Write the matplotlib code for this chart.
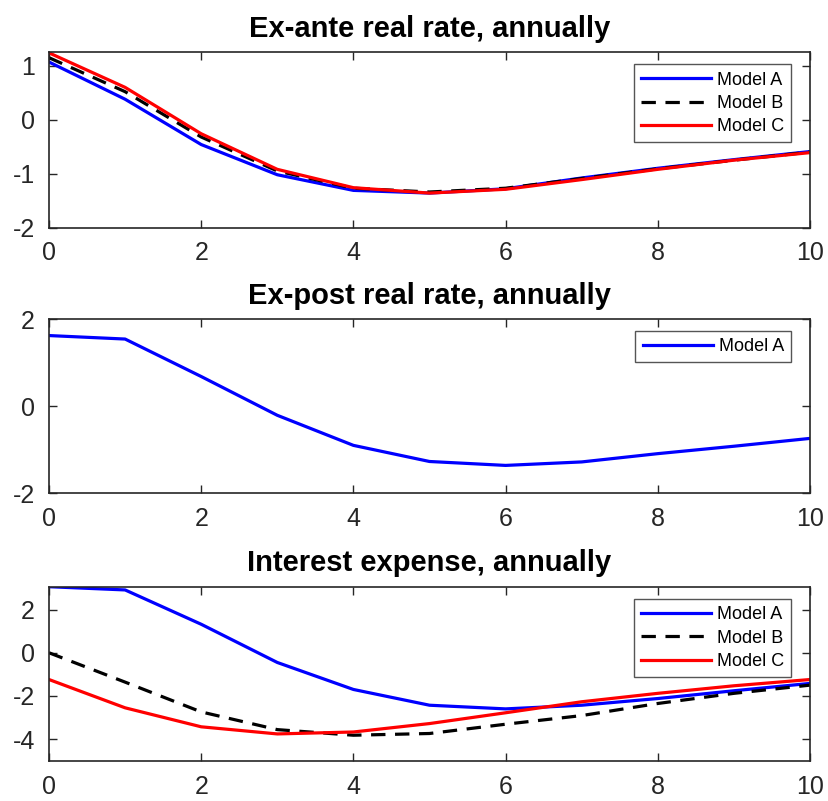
import matplotlib
matplotlib.use("Agg")
import matplotlib.pyplot as plt
import numpy as np

plt.rcParams['font.family'] = ['Liberation Sans', 'DejaVu Sans']
plt.rcParams['axes.unicode_minus'] = False

periods = list(range(11))

# Panel 1: Ex-ante real rate
exante_A = [1.07, 0.38, -0.46, -1.02, -1.31, -1.36, -1.28, -1.08, -0.90, -0.74, -0.59]
exante_B = [1.15, 0.52, -0.32, -0.95, -1.27, -1.34, -1.27, -1.09, -0.91, -0.75, -0.60]
exante_C = [1.24, 0.60, -0.26, -0.92, -1.26, -1.36, -1.29, -1.11, -0.92, -0.75, -0.61]

# Panel 2: Ex-post real rate
expost_A = [1.62, 1.54, 0.68, -0.21, -0.90, -1.27, -1.36, -1.28, -1.09, -0.92, -0.74]

# Panel 3: Interest expense
intexp_A = [3.06, 2.91, 1.32, -0.45, -1.70, -2.43, -2.60, -2.43, -2.12, -1.76, -1.42]
intexp_B = [0.00, -1.36, -2.74, -3.56, -3.82, -3.74, -3.31, -2.91, -2.35, -1.88, -1.50]
intexp_C = [-1.24, -2.55, -3.43, -3.76, -3.67, -3.28, -2.78, -2.27, -1.88, -1.53, -1.24]

titles = ["Ex-ante real rate, annually", "Ex-post real rate, annually", "Interest expense, annually"]
xticks = [0, 2, 4, 6, 8, 10]

W, H = 829, 801
fig = plt.figure(figsize=(W / 100, H / 100), dpi=100)

def frac(left, top, right, bottom):
    return [left / W, 1 - bottom / H, (right - left) / W, (bottom - top) / H]

ax1 = fig.add_axes(frac(49, 52.3, 810, 227.6))
ax2 = fig.add_axes(frac(49, 319, 810, 493.3))
ax3 = fig.add_axes(frac(49, 586.7, 810, 760.7))

lw = 2.3
dash = (0, (4.5, 3))
txtc = '#262626'

def style(ax, title, ylim, yticks):
    ax.set_xlim(0, 10)
    ax.set_ylim(*ylim)
    ax.set_xticks(xticks)
    ax.set_yticks(yticks)
    ax.tick_params(direction='in', length=6, width=1, top=True, right=True,
                   labelsize=18, colors=txtc)
    ax.tick_params(axis='x', pad=10)
    ax.tick_params(axis='y', pad=10)
    for lab in ax.get_xticklabels() + ax.get_yticklabels():
        lab.set_color(txtc)
    for s in ax.spines.values():
        s.set_linewidth(1.2)
        s.set_color(txtc)
    ax.set_title(title, fontsize=21, fontweight='bold', pad=11)

def legend(ax, yanchor):
    leg = ax.legend(loc='upper right', bbox_to_anchor=(0.975, yanchor), borderaxespad=0,
                    fontsize=13, handlelength=3.9, fancybox=False, framealpha=1,
                    edgecolor='#555555', borderpad=0.4, labelspacing=0.35,
                    handletextpad=0.3)
    leg.get_frame().set_linewidth(1.0)

ax1.plot(periods, exante_A, color='#0000ff', lw=lw, label='Model A')
ax1.plot(periods, exante_B, color='black', lw=lw, ls=dash, label='Model B')
ax1.plot(periods, exante_C, color='#ff0000', lw=lw, label='Model C')
style(ax1, titles[0], (-2, 1.25), [-2, -1, 0, 1])
legend(ax1, 0.931)

ax2.plot(periods, expost_A, color='#0000ff', lw=lw, label='Model A')
style(ax2, titles[1], (-2, 2), [-2, 0, 2])
legend(ax2, 0.931)

ax3.plot(periods, intexp_A, color='#0000ff', lw=lw, label='Model A')
ax3.plot(periods, intexp_B, color='black', lw=lw, ls=dash, label='Model B')
ax3.plot(periods, intexp_C, color='#ff0000', lw=lw, label='Model C')
style(ax3, titles[2], (-5, 3.06), [-4, -2, 0, 2])
legend(ax3, 0.928)

fig.savefig('out.png', dpi=100)
